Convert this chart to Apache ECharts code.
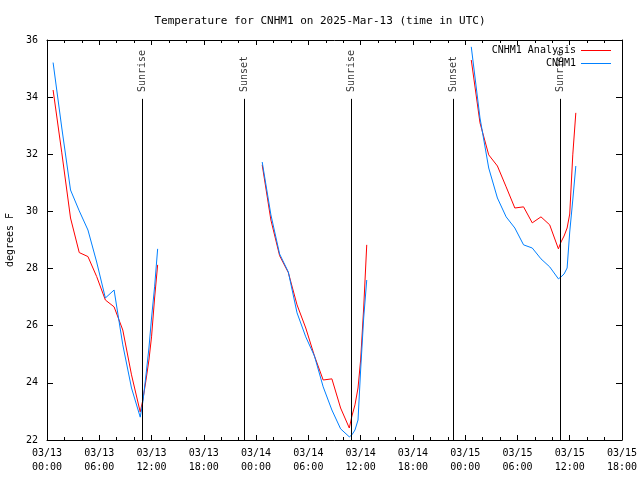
<!DOCTYPE html>
<html>
<head>
<meta charset="utf-8">
<script src="https://cdn.jsdelivr.net/npm/echarts@6/dist/echarts.min.js"></script>
<style>html,body{margin:0;padding:0;background:#fff;}#c{width:640px;height:480px;}</style>
</head>
<body>
<div id="c"></div>
<script>
// Hours after 2025-03-13 00:00 UTC
const seg1Hours = [0.7, 1.7, 2.7, 3.7, 4.7, 5.7, 6.7, 7.7, 8.7, 9.7, 10.7, 11.0, 11.35, 11.7, 12.0, 12.35, 12.7];
const seg2Hours = [24.7, 25.7, 26.7, 27.7, 28.7, 29.7, 30.7, 31.7, 32.7, 33.7, 34.7, 35.0, 35.35, 35.7, 36.0, 36.35, 36.7];
const seg3Hours = [48.7, 49.7, 50.7, 51.7, 52.7, 53.7, 54.7, 55.7, 56.7, 57.7, 58.7, 59.0, 59.35, 59.7, 60.0, 60.35, 60.7];

const analysisSeg1 = [34.25, 32.05, 29.77, 28.56, 28.42, 27.72, 26.9, 26.66, 25.85, 24.28, 22.98, 23.4, 24.07, 24.8, 25.61, 26.97, 28.13];
const analysisSeg2 = [31.63, 29.7, 28.45, 27.86, 26.73, 25.92, 24.94, 24.1, 24.14, 23.12, 22.42, 22.84, 23.23, 23.82, 24.8, 26.62, 28.83];
const analysisSeg3 = [35.3, 33.1, 31.98, 31.59, 30.86, 30.12, 30.16, 29.6, 29.81, 29.53, 28.69, 28.93, 29.14, 29.42, 29.91, 31.98, 33.45];

const obsSeg1 = [35.21, 32.92, 30.75, 30.02, 29.35, 28.23, 26.97, 27.25, 25.33, 23.82, 22.8, 23.33, 24.24, 25.22, 26.27, 27.36, 28.69];
const obsSeg2 = [31.73, 29.88, 28.51, 27.88, 26.45, 25.61, 24.94, 23.86, 23.05, 22.39, 22.11, 22.18, 22.35, 22.7, 24.45, 26.27, 27.6];
const obsSeg3 = [35.76, 33.27, 31.52, 30.47, 29.81, 29.42, 28.83, 28.72, 28.34, 28.06, 27.64, 27.71, 27.81, 28.02, 29.28, 30.4, 31.59];

const sunEventHours = [10.92, 22.66, 34.9, 46.66, 58.88];
const sunEventLabels = ['Sunrise', 'Sunset', 'Sunrise', 'Sunset', 'Sunrise'];
const sunLineTop = 33.94;
const sunLabelY = 34.18;

const dayLabels = ['03/13', '03/14', '03/15'];
const seriesNames = ['CNHM1 Analysis', 'CNHM1'];

function buildSeries(hoursList, valuesList) {
  const out = [];
  hoursList.forEach((hrs, i) => {
    if (i > 0) out.push([hrs[0] - 0.5, '-']);
    hrs.forEach((h, j) => out.push([h, valuesList[i][j]]));
  });
  return out;
}
const hoursSegs = [seg1Hours, seg2Hours, seg3Hours];
const analysisData = buildSeries(hoursSegs, [analysisSeg1, analysisSeg2, analysisSeg3]);
const obsData = buildSeries(hoursSegs, [obsSeg1, obsSeg2, obsSeg3]);

const FONT = 'DejaVu Sans Mono';
function xLabel(v) {
  const d = Math.floor(v / 24);
  const hh = Math.round(v - d * 24);
  return dayLabels[d] + '\n' + String(hh).padStart(2, '0') + ':00';
}

const LEGEND_ICON = 'path://M0,0 L0,0 M0,12 L0,12 M0,6 L30,6 L30,7 L0,7 Z';

const chart = echarts.init(document.getElementById('c'), null, {renderer: 'canvas'});
const axisLine = {show: true, onZero: false, lineStyle: {color: '#000', width: 1}};
chart.setOption({
  animation: false,
  backgroundColor: '#fff',
  textStyle: {fontFamily: FONT, color: '#000'},
  title: {
    text: 'Temperature for CNHM1 on 2025-Mar-13 (time in UTC)',
    left: 'center', top: 11,
    textStyle: {fontFamily: FONT, fontSize: 11, fontWeight: 'normal', color: '#000'}
  },
  legend: {
    orient: 'vertical', right: 24, top: 39, align: 'right',
    itemWidth: 30, itemHeight: 12, itemGap: 1,
    symbolKeepAspect: false,
    data: seriesNames.map(n => ({name: n, icon: LEGEND_ICON})),
    textStyle: {fontFamily: FONT, fontSize: 10, color: '#000'}
  },
  grid: {left: 47, right: 18, top: 40, bottom: 40, containLabel: false, outerBoundsMode: 'none'},
  xAxis: [{
    type: 'value', min: 0, max: 66, interval: 6, position: 'bottom',
    axisLine: axisLine,
    axisTick: {show: true, inside: true, length: 5, lineStyle: {color: '#000'}},
    minorTick: {show: true, splitNumber: 3, length: 3, lineStyle: {color: '#000'}},
    splitLine: {show: false},
    axisLabel: {formatter: xLabel, fontSize: 10, color: '#000', fontFamily: FONT, lineHeight: 14, margin: 6, showMinLabel: true, showMaxLabel: true, hideOverlap: false}
  }, {
    type: 'value', min: 0, max: 66, interval: 6, position: 'top',
    axisLine: axisLine,
    axisTick: {show: true, inside: true, length: 5, lineStyle: {color: '#000'}},
    minorTick: {show: true, splitNumber: 3, length: 3, lineStyle: {color: '#000'}},
    splitLine: {show: false},
    axisLabel: {show: false}
  }],
  yAxis: [{
    type: 'value', min: 22, max: 36, interval: 2, position: 'left',
    name: 'degrees F', nameLocation: 'middle', nameGap: 30, nameRotate: 90,
    nameTextStyle: {fontFamily: FONT, fontSize: 10, color: '#000'},
    axisLine: axisLine,
    axisTick: {show: true, inside: true, length: 6, lineStyle: {color: '#000'}},
    splitLine: {show: false},
    axisLabel: {fontSize: 10, color: '#000', fontFamily: FONT, margin: 9}
  }, {
    type: 'value', min: 22, max: 36, interval: 2, position: 'right',
    axisLine: axisLine,
    axisTick: {show: true, inside: true, length: 6, lineStyle: {color: '#000'}},
    splitLine: {show: false},
    axisLabel: {show: false}
  }],
  series: [{
    name: seriesNames[0], type: 'line', data: analysisData, symbol: 'none',
    connectNulls: false, color: '#ff0000',
    lineStyle: {color: '#ff0000', width: 1}, z: 3
  }, {
    name: seriesNames[1], type: 'line', data: obsData, symbol: 'none',
    connectNulls: false, color: '#0080ff',
    lineStyle: {color: '#0080ff', width: 1}, z: 4
  }, {
    name: 'sun', type: 'line', data: [], symbol: 'none', silent: true,
    markLine: {
      silent: true, symbol: 'none', animation: false,
      label: {show: false},
      lineStyle: {color: '#000', width: 1, type: 'solid'},
      emphasis: {disabled: true},
      data: sunEventHours.map(h => [{coord: [h, 22]}, {coord: [h, sunLineTop]}])
    }
  }, {
    name: 'sunLabels', type: 'scatter', symbolSize: 0, silent: true,
    data: sunEventHours.map((h, i) => ({value: [h, sunLabelY], label: {formatter: sunEventLabels[i]}})),
    label: {
      show: true, position: 'inside', rotate: 90, align: 'left', verticalAlign: 'middle',
      fontFamily: FONT, fontSize: 10, color: '#000'
    }, z: 2
  }]
});
</script>
</body>
</html>
